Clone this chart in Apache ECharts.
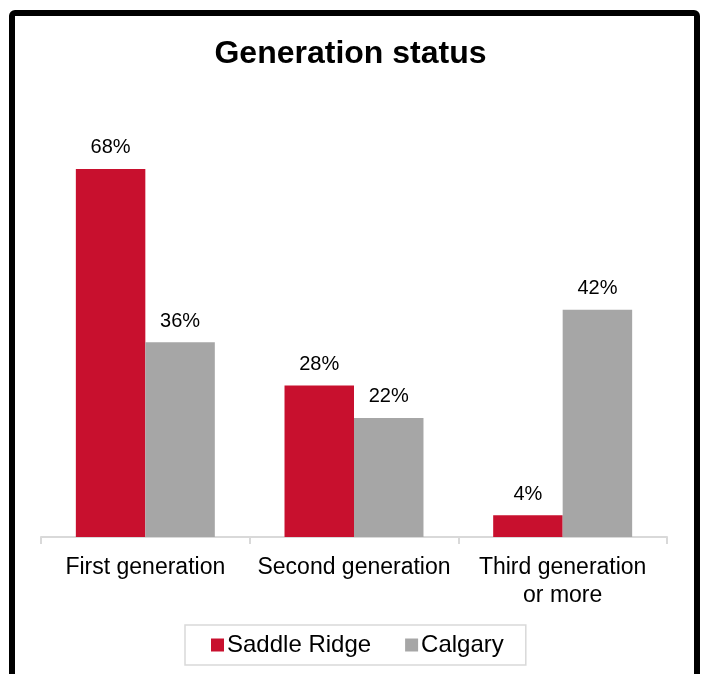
<!DOCTYPE html>
<html>
<head>
<meta charset="utf-8">
<script src="https://cdn.jsdelivr.net/npm/echarts@6/dist/echarts.min.js"></script>
<style>
html,body{margin:0;padding:0;background:#fff;}
#c{width:701px;height:674px;}
</style>
</head>
<body>
<div id="c"></div>
<script>
const categories = ['First generation', 'Second generation', 'Third generation\nor more'];
const saddleRidge = [68, 28, 4];
const calgary = [36, 22, 42];
const seriesNames = ['Saddle Ridge', 'Calgary'];

const chart = echarts.init(document.getElementById('c'), null, {renderer: 'canvas'});
const FONT = '"Liberation Sans", Arial, sans-serif';
const lbl = {show: true, position: 'top', distance: 11, formatter: '{c}%', color: '#000', fontSize: 20, fontFamily: FONT};
chart.setOption({
  animation: false,
  backgroundColor: '#fff',
  title: {
    text: 'Generation status', left: 'center', top: 33,
    textStyle: {fontSize: 32, fontWeight: 'bold', color: '#000', fontFamily: FONT}
  },
  graphic: [{
    type: 'rect', shape: {x: 12, y: 13, width: 685, height: 700, r: 3},
    style: {fill: 'none', stroke: '#000', lineWidth: 6}, z: 100
  }],
  legend: {
    data: seriesNames, top: 625, left: 185,
    icon: 'rect', itemWidth: 13, itemHeight: 13, itemGap: 34,
    borderColor: '#D9D9D9', borderWidth: 1.5, padding: [8, 22, 8, 26],
    textStyle: {fontSize: 24, color: '#000', fontFamily: FONT, padding: [0, 0, 0, -2]}
  },
  grid: {left: 41, right: 34, top: 104, bottom: 137},
  xAxis: {
    type: 'category', data: categories,
    axisLine: {lineStyle: {color: '#D9D9D9', width: 2}},
    axisTick: {show: true, length: 7, alignWithLabel: false, lineStyle: {color: '#D9D9D9', width: 2}},
    axisLabel: {color: '#000', fontSize: 23, fontFamily: FONT, margin: 17, lineHeight: 28, interval: 0}
  },
  yAxis: {type: 'value', min: 0, max: 80, show: false, splitLine: {show: false}},
  series: [
    {name: seriesNames[0], type: 'bar', data: saddleRidge, barGap: '0%', barCategoryGap: '33.4%',
     itemStyle: {color: '#C8102E'}, label: lbl},
    {name: seriesNames[1], type: 'bar', data: calgary, barGap: '0%', barCategoryGap: '33.4%',
     itemStyle: {color: '#A6A6A6'}, label: lbl}
  ]
});
</script>
</body>
</html>
